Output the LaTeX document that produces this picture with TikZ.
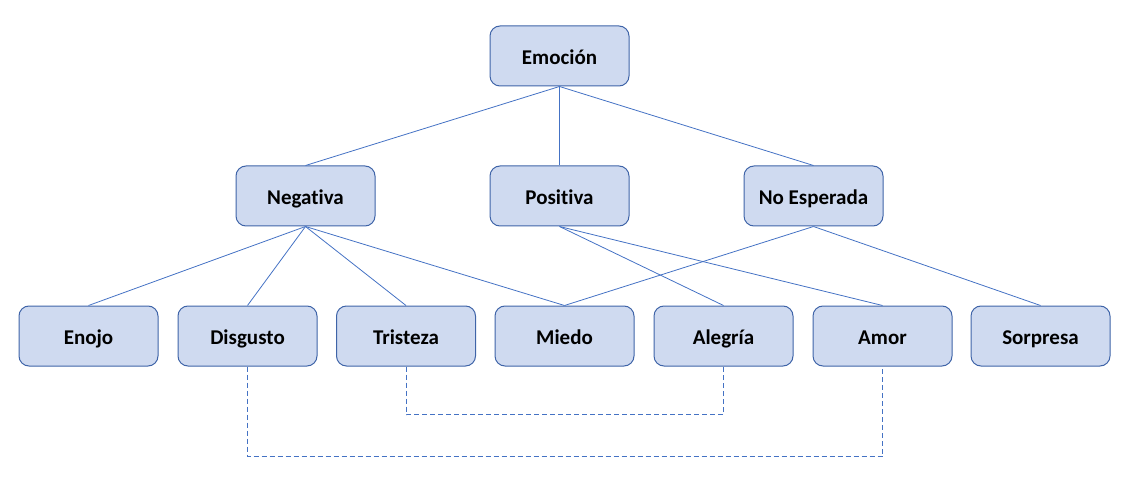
\documentclass[tikz,border=0pt]{standalone}
\usepackage{fontspec}
\setmainfont[Ligatures=NoCommon]{Carlito}
\definecolor{boxfill}{HTML}{CFDAF0}
\definecolor{boxline}{HTML}{3F64A8}
\definecolor{linkline}{HTML}{4472C4}
\tikzset{
    emobox/.style={draw=boxline,fill=boxfill,rounded corners=10pt,line width=1pt,
        minimum width=139pt,minimum height=60pt,inner sep=0pt,
        text height=19pt,text depth=1.5pt,
        font=\fontsize{21}{25}\selectfont\bfseries},
    link/.style={linkline,line width=0.8pt},
    cross/.style={linkline,line width=0.9pt,dash pattern=on 5pt off 3pt}
}
\begin{document}
\begin{tikzpicture}[x=1pt,y=-1pt]
                \useasboundingbox (0,0) rectangle (1124,486);
                % top level
                \node[emobox] (emo) at (559.5,56) {Emoción};
                % second level
                \node[emobox] (neg) at (305.5,196) {Negativa};
                \node[emobox] (pos) at (559.5,196) {Positiva};
                \node[emobox] (noesp) at (813.5,196) {No Esperada};
                % leaves
                \node[emobox] (enojo) at (88.5,336) {Enojo};
                \node[emobox] (disgusto) at (247.5,336) {Disgusto};
                \node[emobox] (tristeza) at (406,336) {Tristeza};
                \node[emobox] (miedo) at (564.5,336) {Miedo};
                \node[emobox] (alegria) at (723.5,336) {Alegría};
                \node[emobox] (amor) at (882.5,336) {Amor};
                \node[emobox] (sorpresa) at (1040.5,336) {Sorpresa};
                % links
                \foreach \c in {neg,pos,noesp}
                    \draw[link] (emo.south) -- (\c.north);
                \foreach \c in {enojo,disgusto,tristeza,miedo}
                    \draw[link] (neg.south) -- (\c.north);
                \foreach \c in {alegria,amor}
                    \draw[link] (pos.south) -- (\c.north);
                \foreach \c in {miedo,sorpresa}
                    \draw[link] (noesp.south) -- (\c.north);
                % dashed pairs
                \draw[cross] (tristeza.south) -- ++(0,48) -| (alegria.south);
                \draw[cross] (disgusto.south) -- ++(0,90) -| (amor.south);
            \end{tikzpicture}
\end{document}
